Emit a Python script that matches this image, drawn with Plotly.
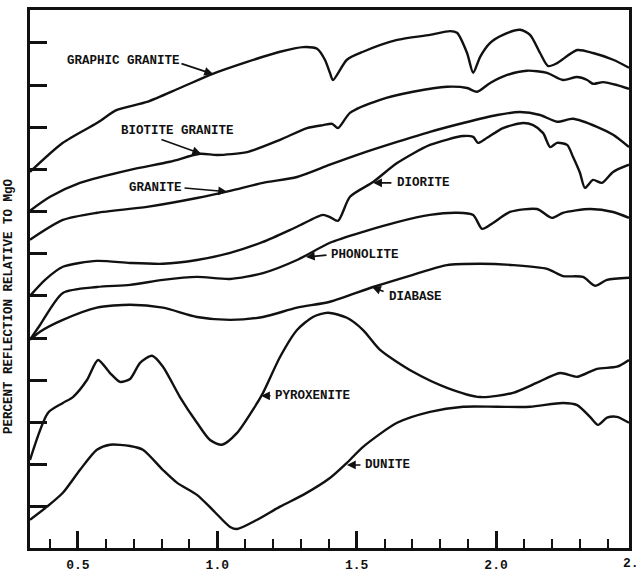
import plotly.graph_objects as go

# ---- data (wavelength in micrometres, reflectance in offset tick units) ----
graphic_granite_x = [0.328, 0.446, 0.568, 0.640, 0.748, 0.866, 0.981, 1.107, 1.225, 1.308, 1.358, 1.386,
                     1.404, 1.415, 1.465, 1.523, 1.645, 1.763, 1.835, 1.860, 1.896, 1.918, 1.943, 1.979,
                     2.025, 2.086, 2.122, 2.158, 2.187, 2.219, 2.291, 2.348, 2.420, 2.477]
graphic_granite_y = [8.94, 9.63, 10.10, 10.41, 10.60, 10.93, 11.26, 11.55, 11.79, 11.90, 11.86, 11.60,
                     11.29, 11.12, 11.60, 11.79, 12.07, 12.19, 12.28, 12.24, 11.76, 11.29, 11.67, 12.00,
                     12.19, 12.31, 12.19, 11.76, 11.45, 11.52, 11.83, 11.76, 11.60, 11.41]

biotite_granite_x = [0.328, 0.400, 0.507, 0.687, 0.830, 0.938, 0.999, 1.107, 1.225, 1.322, 1.379, 1.412,
                     1.433, 1.476, 1.584, 1.702, 1.824, 1.896, 1.932, 1.979, 2.040, 2.111, 2.183, 2.240,
                     2.291, 2.327, 2.348, 2.384, 2.434, 2.477]
biotite_granite_y = [8.02, 8.35, 8.68, 8.99, 9.18, 9.37, 9.34, 9.41, 9.70, 9.98, 10.05, 10.08,
                     9.98, 10.34, 10.65, 10.84, 10.96, 10.93, 10.84, 11.05, 11.24, 11.34, 11.29, 11.12,
                     11.19, 11.12, 11.03, 11.07, 11.00, 10.91]

granite_x = [0.328, 0.446, 0.568, 0.748, 0.927, 1.046, 1.164, 1.286, 1.404, 1.523, 1.645, 1.763,
             1.882, 2.004, 2.086, 2.158, 2.219, 2.276, 2.362, 2.420, 2.477]
granite_y = [7.33, 7.80, 7.97, 8.11, 8.32, 8.49, 8.68, 8.82, 9.11, 9.39, 9.65, 9.89,
             10.10, 10.29, 10.36, 10.29, 10.13, 10.20, 10.01, 9.82, 9.53]

diorite_x = [0.328, 0.382, 0.446, 0.568, 0.687, 0.805, 0.927, 1.046, 1.164, 1.286, 1.379, 1.404,
             1.433, 1.476, 1.559, 1.645, 1.763, 1.882, 1.918, 1.935, 1.968, 2.025, 2.097, 2.133,
             2.169, 2.194, 2.219, 2.255, 2.276, 2.301, 2.319, 2.348, 2.380, 2.420, 2.477]
diorite_y = [6.00, 6.38, 6.69, 6.83, 6.78, 6.76, 6.85, 7.02, 7.28, 7.64, 7.92, 7.87,
             7.78, 8.35, 8.70, 9.15, 9.58, 9.79, 9.77, 9.63, 9.75, 9.98, 10.10, 10.05,
             9.86, 9.53, 9.63, 9.58, 9.30, 8.92, 8.56, 8.75, 8.68, 8.94, 9.11]

phonolite_x = [0.328, 0.364, 0.446, 0.568, 0.687, 0.805, 0.927, 1.046, 1.164, 1.286, 1.404, 1.523,
               1.645, 1.763, 1.860, 1.918, 1.950, 1.989, 2.050, 2.147, 2.201, 2.240, 2.337, 2.420, 2.477]
phonolite_y = [4.96, 5.31, 6.07, 6.21, 6.26, 6.38, 6.45, 6.40, 6.54, 6.85, 7.26, 7.52,
               7.75, 7.92, 7.97, 7.92, 7.59, 7.73, 7.99, 8.06, 7.85, 7.97, 8.06, 7.99, 7.85]

diabase_x = [0.328, 0.364, 0.446, 0.568, 0.687, 0.805, 0.927, 1.046, 1.164, 1.286, 1.404, 1.559,
             1.702, 1.824, 1.943, 2.061, 2.183, 2.240, 2.312, 2.355, 2.398, 2.477]
diabase_y = [4.96, 5.15, 5.43, 5.72, 5.79, 5.72, 5.50, 5.43, 5.50, 5.72, 5.86, 6.21,
             6.50, 6.73, 6.76, 6.73, 6.64, 6.47, 6.45, 6.24, 6.38, 6.43]

pyroxenite_x = [0.328, 0.393, 0.446, 0.482, 0.533, 0.572, 0.615, 0.651, 0.687, 0.723, 0.766, 0.805,
                0.866, 0.927, 0.974, 1.017, 1.071, 1.128, 1.164, 1.225, 1.286, 1.343, 1.397, 1.465,
                1.523, 1.584, 1.702, 1.824, 1.943, 2.061, 2.147, 2.230, 2.291, 2.362, 2.434, 2.477]
pyroxenite_y = [2.11, 3.23, 3.46, 3.60, 4.01, 4.48, 4.17, 3.96, 4.03, 4.41, 4.58, 4.32,
                3.60, 2.99, 2.58, 2.47, 2.75, 3.30, 3.70, 4.55, 5.19, 5.50, 5.60, 5.48,
                5.19, 4.72, 4.20, 3.82, 3.60, 3.70, 3.94, 4.17, 4.08, 4.27, 4.32, 4.48]

dunite_x = [0.328, 0.389, 0.446, 0.507, 0.568, 0.615, 0.687, 0.733, 0.805, 0.855, 0.927, 0.984,
            1.046, 1.071, 1.143, 1.225, 1.308, 1.404, 1.465, 1.523, 1.645, 1.763, 1.882, 2.004,
            2.122, 2.240, 2.291, 2.337, 2.366, 2.398, 2.434, 2.477]
dunite_y = [0.69, 1.00, 1.33, 1.87, 2.35, 2.47, 2.44, 2.35, 1.87, 1.57, 1.28, 0.92,
            0.52, 0.47, 0.69, 1.00, 1.28, 1.68, 2.04, 2.42, 2.99, 3.25, 3.37, 3.37,
            3.37, 3.46, 3.41, 3.13, 2.94, 3.11, 3.13, 2.99]

x_ticks = [0.5, 1.0, 1.5, 2.0]
x_tick_labels = ["0.5", "1.0", "1.5", "2.0"]
x_range = [0.328, 2.477]
y_range = [0.02, 12.78]

# label text, text anchor (x, y), arrow tail (x, y), arrow head (x, y)
labels = ["GRAPHIC GRANITE", "BIOTITE GRANITE", "GRANITE", "DIORITE",
          "PHONOLITE", "DIABASE", "PYROXENITE", "DUNITE"]
label_x = [0.454, 0.647, 0.676, 1.638, 1.401, 1.609, 1.200, 1.523]
label_y = [11.57, 9.91, 8.56, 8.68, 6.97, 5.98, 3.63, 1.99]
tail_x = [0.866, 0.794, 0.877, 1.630, 1.397, 1.602, 1.196, 1.519]
tail_y = [11.52, 9.72, 8.56, 8.68, 6.97, 6.09, 3.63, 1.99]
head_x = [0.985, 0.942, 1.035, 1.559, 1.318, 1.555, 1.157, 1.465]
head_y = [11.26, 9.37, 8.47, 8.68, 6.92, 6.21, 3.63, 1.99]

series = [
    ("Graphic granite", graphic_granite_x, graphic_granite_y),
    ("Biotite granite", biotite_granite_x, biotite_granite_y),
    ("Granite", granite_x, granite_y),
    ("Diorite", diorite_x, diorite_y),
    ("Phonolite", phonolite_x, phonolite_y),
    ("Diabase", diabase_x, diabase_y),
    ("Pyroxenite", pyroxenite_x, pyroxenite_y),
    ("Dunite", dunite_x, dunite_y),
]

LINE = "#111111"
FONT = "Liberation Mono"

fig = go.Figure()
for name, xs, ys in series:
    fig.add_trace(go.Scatter(x=xs, y=ys, mode="lines", name=name,
                             line=dict(color=LINE, width=2.4, shape="spline", smoothing=0.7),
                             showlegend=False, hoverinfo="skip"))

annotations = []
for t, lx, ly, tx, ty, hx, hy in zip(labels, label_x, label_y, tail_x, tail_y, head_x, head_y):
    annotations.append(dict(x=lx, y=ly, xref="x", yref="y", text="<b>%s</b>" % t,
                            showarrow=False, xanchor="left", yanchor="middle",
                            font=dict(family=FONT, size=12.5, color=LINE)))
    annotations.append(dict(x=hx, y=hy, ax=tx, ay=ty, xref="x", yref="y", axref="x", ayref="y",
                            text="", showarrow=True, arrowhead=2, arrowsize=1.1, arrowwidth=1.6,
                            arrowcolor=LINE, standoff=0, startstandoff=0))

# partially visible 2.5 label past the right edge (cut off in the original too)
annotations.append(dict(x=(2.5 - x_range[0]) / (x_range[1] - x_range[0]), y=0, xref="paper", yref="paper",
                        yshift=-15, text="<b>2.5</b>", showarrow=False, xanchor="center", yanchor="middle",
                        font=dict(family=FONT, size=13, color=LINE)))
# y-axis title
annotations.append(dict(x=-0.035, y=0.45, xref="paper", yref="paper", textangle=-90,
                        text="<b>PERCENT REFLECTION RELATIVE TO MgO</b>", showarrow=False,
                        xanchor="center", yanchor="middle",
                        font=dict(family=FONT, size=12.5, color=LINE)))

fig.update_layout(
    width=637, height=574,
    margin=dict(l=30, r=8, t=10, b=26, autoexpand=False),
    paper_bgcolor="white", plot_bgcolor="white",
    showlegend=False,
    annotations=annotations,
    xaxis=dict(range=x_range, showgrid=False, zeroline=False, automargin=False,
               showline=True, linecolor=LINE, linewidth=3, mirror=True,
               tickmode="array", tickvals=x_ticks, ticktext=["<b>%s</b>" % s for s in x_tick_labels],
               ticks="inside", ticklen=17, tickwidth=2.5, tickcolor=LINE, ticklabelstandoff=2,
               tickfont=dict(family=FONT, size=13, color=LINE),
               minor=dict(tickmode="linear", tick0=0.5, dtick=0.1, ticks="inside", ticklen=9,
                          tickwidth=2, tickcolor=LINE, showgrid=False)),
    xaxis2=dict(range=x_range, overlaying="x", side="top", anchor="y", showgrid=False, zeroline=False,
                automargin=False, showline=False, tickmode="array", tickvals=x_ticks,
                showticklabels=False, ticks="inside", ticklen=17, tickwidth=2.5, tickcolor=LINE),
    yaxis=dict(range=y_range, showgrid=False, zeroline=False, automargin=False,
               showline=True, linecolor=LINE, linewidth=3, mirror=True,
               tickmode="linear", tick0=0, dtick=1, ticks="inside", ticklen=17,
               tickwidth=2.5, tickcolor=LINE, showticklabels=False),
)

fig.write_html("out.html")
